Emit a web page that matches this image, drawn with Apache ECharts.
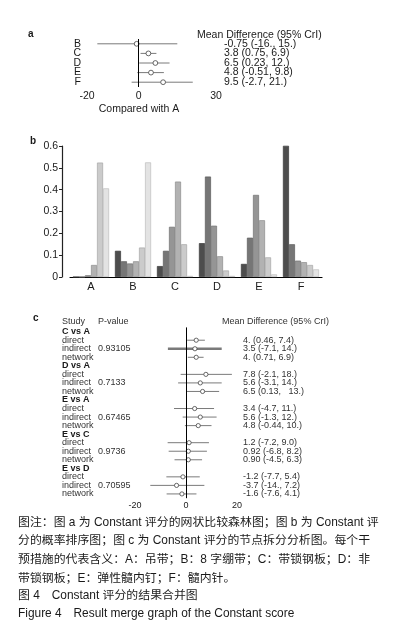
<!DOCTYPE html>
<html>
<head>
<meta charset="utf-8">
<script src="https://cdn.jsdelivr.net/npm/echarts@6/dist/echarts.min.js"></script>
<style>
  html, body { margin: 0; padding: 0; background: #fff; }
  #chart { width: 397px; height: 642px; }
</style>
</head>
<body>
<div id="chart"></div>
<script>
// panel a: network forest plot, compared with A
const aTreatments = ['B', 'C', 'D', 'E', 'F']
const aMean = [-0.75, 3.8, 6.5, 4.8, 9.5]
const aLow = [-16, 0.75, 0.23, -0.51, -2.7]
const aHigh = [15, 6.9, 12, 9.8, 21]
const aText = ['-0.75 (-16., 15.)', '3.8 (0.75, 6.9)', '6.5 (0.23, 12.)', '4.8 (-0.51, 9.8)', '9.5 (-2.7, 21.)']
const aTicks = [-20, 0, 30]

// panel b: rank probabilities (rank 1..6 for each treatment)
const rankCats = ['A', 'B', 'C', 'D', 'E', 'F']
const probA = [0, 0, 0.008, 0.055, 0.524, 0.406]
const probB = [0.12, 0.072, 0.062, 0.072, 0.135, 0.525]
const probC = [0.05, 0.12, 0.23, 0.437, 0.15, 0.005]
const probD = [0.155, 0.46, 0.235, 0.095, 0.03, 0.005]
const probE = [0.06, 0.18, 0.376, 0.26, 0.09, 0.012]
const probF = [0.601, 0.15, 0.075, 0.068, 0.055, 0.035]

// panel c: node splitting
const comparisons = ['C vs A', 'D vs A', 'E vs A', 'E vs C', 'E vs D']
const evidence = ['direct', 'indirect', 'network']
const pValues = ['0.93105', '0.7133', '0.67465', '0.9736', '0.70595']
const cMean = [[4, 3.5, 4], [7.8, 5.6, 6.5], [3.4, 5.6, 4.8], [1.2, 0.92, 0.90], [-1.2, -3.7, -1.6]]
const cLow = [[0.46, -7.1, 0.71], [-2.1, -3.1, 0.13], [-4.7, -1.3, -0.44], [-7.2, -6.8, -4.5], [-7.7, -14, -7.6]]
const cHigh = [[7.4, 14, 6.9], [18, 14, 13], [11, 12, 10], [9.0, 8.2, 6.3], [5.4, 7.2, 4.1]]
const cText = [
  ['4. (0.46, 7.4)', '3.5 (-7.1, 14.)', '4. (0.71, 6.9)'],
  ['7.8 (-2.1, 18.)', '5.6 (-3.1, 14.)', '6.5 (0.13,   13.)'],
  ['3.4 (-4.7, 11.)', '5.6 (-1.3, 12.)', '4.8 (-0.44, 10.)'],
  ['1.2 (-7.2, 9.0)', '0.92 (-6.8, 8.2)', '0.90 (-4.5, 6.3)'],
  ['-1.2 (-7.7, 5.4)', '-3.7 (-14., 7.2)', '-1.6 (-7.6, 4.1)']
]
const cTicks = [-20, 0, 20]

const captionLines = [
  '图注：图 a 为 Constant 评分的网状比较森林图；图 b 为 Constant 评',
  '分的概率排序图；图 c 为 Constant 评分的节点拆分分析图。每个干',
  '预措施的代表含义：A：吊带；B：8 字绷带；C：带锁钢板；D：非',
  '带锁钢板；E：弹性髓内钉；F：髓内针。',
  '图 4\u3000Constant 评分的结果合并图',
  'Figure 4\u3000Result merge graph of the Constant score'
]

const FONT = '"Liberation Sans", Arial, "Noto Sans CJK SC", sans-serif'
const shades = ['#4d4d4d', '#767676', '#959595', '#b2b2b2', '#cbcbcb', '#e3e3e3']
const shadeBorders = ['#3a3a3a', '#5a5a5a', '#727272', '#8d8d8d', '#a6a6a6', '#bdbdbd']

function txt(x, y, text, size, extra) {
  return {
    type: 'text',
    x: x,
    y: y,
    silent: true,
    style: Object.assign({
      text: text,
      fill: '#1a1a1a',
      font: size + 'px ' + FONT,
      textAlign: 'left',
      textVerticalAlign: 'middle',
      align: 'left',
      verticalAlign: 'middle'
    }, extra || {})
  }
}

// error bar + open circle, drawn through the axes
function forestItem(radius, thickIndex) {
  return function(params, api) {
    const row = api.value(0)
    const lo = api.coord([api.value(1), row])
    const hi = api.coord([api.value(2), row])
    const m = api.coord([api.value(3), row])
    return {
      type: 'group',
      children: [
        { type: 'line', shape: { x1: lo[0], y1: lo[1], x2: hi[0], y2: hi[1] },
          style: { stroke: '#7a7a7a', lineWidth: params.dataIndex === thickIndex ? 2.6 : 1 } },
        { type: 'circle', shape: { cx: m[0], cy: m[1], r: radius },
          style: { fill: '#fff', stroke: '#444', lineWidth: 0.8 } }
      ]
    }
  }
}

const zeroLine = {
  silent: true,
  symbol: 'none',
  label: { show: false },
  lineStyle: { color: '#000', type: 'solid', width: 1 },
  data: [{ xAxis: 0 }]
}

// panel a data
const aData = aTreatments.map((t, i) => [i, aLow[i], aHigh[i], aMean[i]])

// panel b series (one per rank)
const probs = [probA, probB, probC, probD, probE, probF]
const rankSeries = shades.map((c, r) => ({
  type: 'bar',
  xAxisIndex: 1,
  yAxisIndex: 2,
  barGap: '0%',
  barCategoryGap: '14%',
  itemStyle: { color: c, borderColor: shadeBorders[r], borderWidth: 0.7 },
  data: probs.map(p => p[r])
}))

// panel c rows
const cRows = []
const cRight = []
const cData = []
comparisons.forEach((comp, g) => {
  cRows.push({ head: comp })
  cRight.push('')
  evidence.forEach((ev, k) => {
    cRows.push({ name: ev, p: k === 1 ? pValues[g] : '' })
    cRight.push(cText[g][k])
    cData.push([cRows.length - 1, cLow[g][k], cHigh[g][k], cMean[g][k]])
  })
})
const cRowKeys = cRows.map((r, i) => String(i))

const chart = echarts.init(document.getElementById('chart'), null, { renderer: 'canvas' })

chart.setOption({
  backgroundColor: '#fff',
  animation: false,
  textStyle: { fontFamily: FONT },
  grid: [
    { left: 87, width: 129, top: 39, height: 48 },
    { left: 70, width: 252, top: 146, height: 131 },
    { left: 135, width: 102, top: 327.4, height: 170.8 }
  ],
  xAxis: [
    {
      gridIndex: 0, type: 'value', min: -20, max: 30,
      splitLine: { show: false },
      axisLine: { lineStyle: { color: '#000', width: 1 } },
      axisTick: { inside: true, length: 5, customValues: aTicks, lineStyle: { color: '#000' } },
      axisLabel: { customValues: aTicks, fontSize: 10.5, color: '#1a1a1a', margin: 4 }
    },
    {
      gridIndex: 1, type: 'category', data: rankCats,
      axisLine: { lineStyle: { color: '#000', width: 1.2 } },
      axisTick: { show: false },
      axisLabel: { fontSize: 11, color: '#1a1a1a', margin: 4 }
    },
    {
      gridIndex: 2, type: 'value', min: -20, max: 20,
      splitLine: { show: false },
      axisLine: { lineStyle: { color: '#000', width: 1 } },
      axisTick: { inside: true, length: 4, customValues: cTicks, lineStyle: { color: '#000' } },
      axisLabel: { customValues: cTicks, fontSize: 9, color: '#1a1a1a', margin: 3 }
    }
  ],
  yAxis: [
    {
      gridIndex: 0, type: 'category', data: aTreatments, inverse: true,
      axisLine: { show: false }, axisTick: { show: false },
      axisLabel: { interval: 0, fontSize: 10.5, color: '#1a1a1a', margin: 6 }
    },
    {
      gridIndex: 0, type: 'category', data: aText, inverse: true, position: 'right',
      axisLine: { show: false }, axisTick: { show: false },
      axisLabel: { interval: 0, fontSize: 10.5, color: '#1a1a1a', margin: 8, align: 'left' }
    },
    {
      gridIndex: 1, type: 'value', min: 0, max: 0.6, interval: 0.1, offset: 8,
      splitLine: { show: false },
      axisLine: { show: true, lineStyle: { color: '#222', width: 1.2 } },
      axisTick: { show: true, length: 3, lineStyle: { color: '#222' } },
      axisLabel: {
        fontSize: 10.5, color: '#1a1a1a', margin: 4,
        formatter: v => (v === 0 ? '0' : v.toFixed(1))
      }
    },
    {
      gridIndex: 2, type: 'category', data: cRowKeys, inverse: true,
      axisLine: { show: false }, axisTick: { show: false },
      axisLabel: {
        interval: 0, align: 'left', margin: 73, fontSize: 9, color: '#333',
        formatter: v => {
          const r = cRows[+v]
          if (r.head) return '{h|' + r.head + '}'
          return '{s|' + r.name + '}{p|' + r.p + '}'
        },
        rich: {
          h: { fontSize: 9, fontWeight: 'bold', color: '#1a1a1a' },
          s: { fontSize: 9, width: 36, color: '#333' },
          p: { fontSize: 9, color: '#333' }
        }
      }
    },
    {
      gridIndex: 2, type: 'category', data: cRight, inverse: true, position: 'right',
      axisLine: { show: false }, axisTick: { show: false },
      axisLabel: { interval: 0, align: 'left', margin: 6, fontSize: 9, color: '#333' }
    }
  ],
  series: [
    {
      type: 'custom',
      xAxisIndex: 0,
      yAxisIndex: 0,
      renderItem: forestItem(2.4, -1),
      encode: { x: [1, 2, 3], y: 0 },
      data: aData,
      markLine: zeroLine,
      z: 3
    },
    ...rankSeries,
    {
      type: 'custom',
      xAxisIndex: 2,
      yAxisIndex: 3,
      renderItem: forestItem(2.1, 1),
      encode: { x: [1, 2, 3], y: 0 },
      data: cData,
      markLine: zeroLine,
      z: 3
    }
  ],
  graphic: [
    txt(28, 34, 'a', 10, { font: 'bold 10px ' + FONT }),
    txt(197, 35, 'Mean Difference (95% CrI)', 10.5),
    txt(139, 109, 'Compared with A', 10.5, { textAlign: 'center', align: 'center' }),
    txt(30, 141, 'b', 10, { font: 'bold 10px ' + FONT }),
    txt(33, 318, 'c', 10, { font: 'bold 10px ' + FONT }),
    txt(62, 321.7, 'Study', 9, { fill: '#333' }),
    txt(98, 321.7, 'P-value', 9, { fill: '#333' }),
    txt(222, 321.7, 'Mean Difference (95% CrI)', 9, { fill: '#333' }),
    txt(18, 522.7, captionLines[0], 11.9),
    txt(18, 540.7, captionLines[1], 11.9),
    txt(18, 559.3, captionLines[2], 11.9),
    txt(18, 578.3, captionLines[3], 11.9),
    txt(18, 596, captionLines[4], 11.9),
    txt(18, 613.3, captionLines[5], 11.9)
  ]
})
</script>
</body>
</html>
